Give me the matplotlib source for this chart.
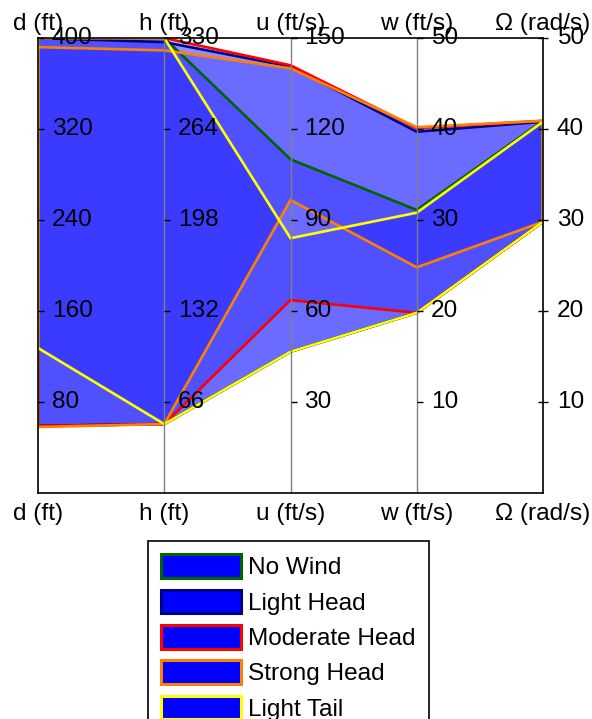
import matplotlib
matplotlib.use("Agg")
import matplotlib.pyplot as plt
from matplotlib.patches import Patch
import numpy as np

plt.rcParams['font.family'] = ['Liberation Sans', 'DejaVu Sans']

# Parallel-coordinate variables and their full-scale values
variables = ["d (ft)", "h (ft)", "u (ft/s)", "w (ft/s)", "Ω (rad/s)"]
axis_max = [400, 330, 150, 50, 50]

series_names = ["No Wind", "Light Head", "Moderate Head", "Strong Head", "Light Tail"]
edge_colors = ["#006400", "#00008b", "#ff0000", "#ff8000", "#ffff00"]

# Envelope of each wind case: upper and lower bound on every variable
no_wind_hi = [400, 330, 110, 31.1, 40.9]
no_wind_lo = [59, 50, 46.6, 19.8, 29.8]
light_head_hi = [400, 327, 140.6, 39.7, 40.8]
light_head_lo = [59, 50, 46.6, 19.8, 29.8]
moderate_head_hi = [400, 330, 141, 40.1, 40.9]
moderate_head_lo = [59, 50, 63.6, 19.8, 29.8]
strong_head_hi = [392, 321, 140, 40.2, 40.9]
strong_head_lo = [58, 50, 96.6, 24.8, 29.8]
light_tail_hi = [400, 330, 84, 30.8, 40.8]
light_tail_lo = [127.5, 50, 46.6, 19.8, 29.8]

upper = [no_wind_hi, light_head_hi, moderate_head_hi, strong_head_hi, light_tail_hi]
lower = [no_wind_lo, light_head_lo, moderate_head_lo, strong_head_lo, light_tail_lo]

fig = plt.figure(figsize=(5.92, 7.19), dpi=100)
ax = fig.add_axes([38 / 592, 1 - 493 / 719, (543 - 38) / 592, (493 - 38) / 719])

n = len(variables)
xs = np.arange(n)
scale = np.array(axis_max, dtype=float)

# Translucent envelopes first, then their outlines on top
outlines = []
for hi, lo, col in zip(upper, lower, edge_colors):
    hi_n = np.array(hi) / scale
    lo_n = np.array(lo) / scale
    px = np.concatenate([xs, xs[::-1]])
    py = np.concatenate([hi_n, lo_n[::-1]])
    ax.fill(px, py, facecolor="#0000ff", alpha=0.25, edgecolor="none", zorder=1)
    outlines.append((px, py, col))

for px, py, col in outlines:
    ax.plot(np.append(px, px[0]), np.append(py, py[0]), color=col, lw=1.9,
            solid_joinstyle="miter", zorder=2)

ax.set_xlim(0, n - 1)
ax.set_ylim(0, 1)
ax.set_xticks([])
ax.set_yticks([])
for s in ax.spines.values():
    s.set_color("black")
    s.set_linewidth(1.2)
    s.set_zorder(3)

# Interior variable axes
for i in range(1, n - 1):
    ax.axvline(i, color="#808080", lw=1.0, zorder=2.5)

# Ticks and labels along every variable axis
fs = 17.6
for i, (name, vmax) in enumerate(zip(variables, axis_max)):
    for k in range(1, 6):
        frac = k / 5
        if i == n - 1:
            ax.plot([i], [frac], marker="_", ms=7, mew=1.0, color="black",
                    clip_on=False, zorder=4)
        else:
            ax.plot([i], [frac], marker=1, ms=4, mew=1.0, color="black",
                    clip_on=False, zorder=4)
        ax.annotate(f"{int(round(vmax * k / 5))}", xy=(i, frac), xytext=(10, 0),
                    textcoords="offset points", ha="left", va="center",
                    fontsize=fs, annotation_clip=False, zorder=5)
    ax.annotate(name, xy=(i, 1), xytext=(0, 10), textcoords="offset points",
                ha="center", va="center", fontsize=fs, annotation_clip=False)
    ax.annotate(name, xy=(i, 0), xytext=(0, -15), textcoords="offset points",
                ha="center", va="center", fontsize=fs, annotation_clip=False)

handles = [Patch(facecolor="#0000ff", edgecolor=c, linewidth=2.2) for c in edge_colors]
leg = fig.legend(handles, series_names, loc="upper left",
                 bbox_to_anchor=(148 / 592, 1 - 541 / 719),
                 borderaxespad=0, fontsize=fs, handlelength=3.25, handleheight=1.1,
                 handletextpad=0.3, labelspacing=0.42, borderpad=0.55,
                 fancybox=False, framealpha=1)
leg.get_frame().set_edgecolor("black")
leg.get_frame().set_linewidth(1.2)

fig.savefig("out.png", dpi=100)
